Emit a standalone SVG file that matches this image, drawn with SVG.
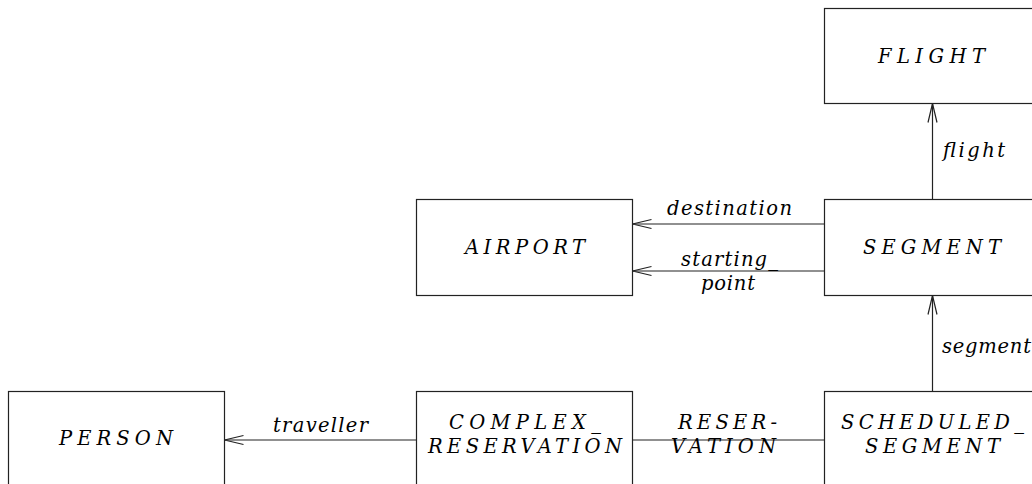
<svg xmlns="http://www.w3.org/2000/svg" width="1032" height="484" viewBox="0 0 1032 484">
  <style>
    .box { fill: #ffffff; stroke: #222222; stroke-width: 1.2; }
    .edge { fill: none; stroke: #222222; stroke-width: 1.2; }
    .t { font-family: "DejaVu Serif", "Liberation Serif", serif; font-style: italic; font-size: 19.5px; fill: #000000; }
  </style>
  <defs>
    <!-- open V arrowhead, tip at the line end -->
    <marker id="open-arrow" markerUnits="userSpaceOnUse" markerWidth="24" markerHeight="12" refX="0" refY="0" orient="auto" overflow="visible">
      <path d="M-19,-4.5 L0,0 L-19,4.5" fill="none" stroke="#222222" stroke-width="1.2"/>
    </marker>
  </defs>
  <rect width="1032" height="484" fill="#ffffff"/>

  <!-- connectors -->
  <g id="connectors">
    <line class="edge" x1="932.5" y1="199.5" x2="932.5" y2="103.5" marker-end="url(#open-arrow)"/>
    <line class="edge" x1="824.5" y1="224" x2="632.5" y2="224" marker-end="url(#open-arrow)"/>
    <line class="edge" x1="824.5" y1="271" x2="632.5" y2="271" marker-end="url(#open-arrow)"/>
    <line class="edge" x1="932.5" y1="391.5" x2="932.5" y2="295.5" marker-end="url(#open-arrow)"/>
    <line class="edge" x1="416.5" y1="440" x2="224.5" y2="440" marker-end="url(#open-arrow)"/>
    <line class="edge" x1="632.5" y1="440" x2="824.5" y2="440"/>
    <text class="t" x="943" y="157" textLength="62" lengthAdjust="spacing">flight</text>
    <text class="t" x="667" y="215" textLength="125" lengthAdjust="spacing">destination</text>
    <text class="t" x="681" y="266" textLength="97" lengthAdjust="spacing">starting_</text>
    <text class="t" x="701" y="290" textLength="54" lengthAdjust="spacing">point</text>
    <text class="t" x="942" y="353" textLength="89" lengthAdjust="spacing">segment</text>
    <text class="t" x="273" y="432" textLength="95" lengthAdjust="spacing">traveller</text>
    <text class="t" x="678" y="429" textLength="99" lengthAdjust="spacing">RESER-</text>
    <text class="t" x="671" y="453" textLength="105" lengthAdjust="spacing">VATION</text>
  </g>

  <g id="flight">
    <rect class="box" x="824.5" y="8.5" width="216" height="95"/>
    <text class="t" x="878" y="63" textLength="107" lengthAdjust="spacing">FLIGHT</text>
  </g>

  <g id="segment">
    <rect class="box" x="824.5" y="199.5" width="216" height="96"/>
    <text class="t" x="863" y="254" textLength="138" lengthAdjust="spacing">SEGMENT</text>
  </g>

  <g id="airport">
    <rect class="box" x="416.5" y="199.5" width="216" height="96"/>
    <text class="t" x="465" y="254" textLength="120" lengthAdjust="spacing">AIRPORT</text>
  </g>

  <g id="person">
    <rect class="box" x="8.5" y="391.5" width="216" height="97"/>
    <text class="t" x="59" y="445" textLength="114" lengthAdjust="spacing">PERSON</text>
  </g>

  <g id="complex-reservation">
    <rect class="box" x="416.5" y="391.5" width="216" height="97"/>
    <text class="t" x="449" y="429" textLength="152" lengthAdjust="spacing">COMPLEX_</text>
    <text class="t" x="428" y="453" textLength="194" lengthAdjust="spacing">RESERVATION</text>
  </g>

  <g id="scheduled-segment">
    <rect class="box" x="824.5" y="391.5" width="216" height="97"/>
    <text class="t" x="841" y="429" textLength="183" lengthAdjust="spacing">SCHEDULED_</text>
    <text class="t" x="865" y="453" textLength="135" lengthAdjust="spacing">SEGMENT</text>
  </g>
</svg>
